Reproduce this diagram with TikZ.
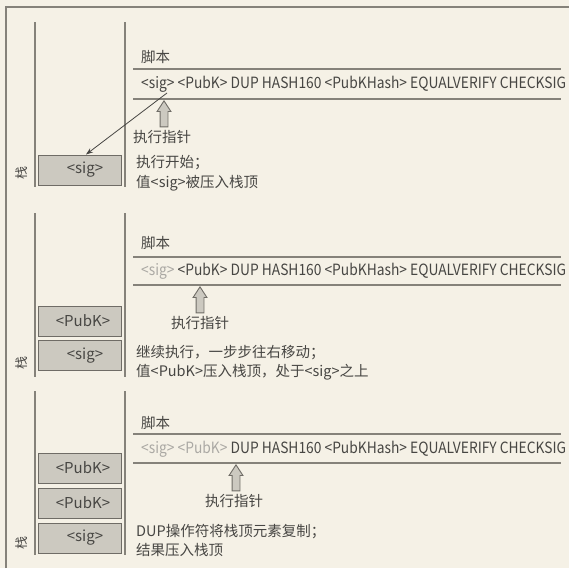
\documentclass[tikz,border=0pt]{standalone}
\usepackage{fontspec}
\setmainfont{Noto Sans CJK SC}
\newfontfamily\scrfont[FakeStretch=0.89]{Noto Sans CJK SC}
\usetikzlibrary{arrows.meta,shapes.arrows,calc}
\definecolor{bg}{HTML}{F5F1E6}
\definecolor{lncol}{HTML}{85827A}
\definecolor{boxfill}{HTML}{CCC9C0}
\definecolor{boxdraw}{HTML}{6F6C66}
\definecolor{txt}{HTML}{474643}
\definecolor{faded}{HTML}{ABA9A4}
\tikzset{
  frame/.style={draw=lncol, line width=1.4pt},
  stackline/.style={draw=lncol, line width=1.3pt},
  scriptline/.style={draw=lncol, line width=1.3pt},
  stackbox/.style={draw=boxdraw, fill=boxfill, line width=1pt, minimum width=83pt, minimum height=30pt, inner sep=0pt, text=txt, font=\fontsize{15}{18}\selectfont},
  boxlabel/.style={text=txt, font=\fontsize{15}{18}\selectfont, inner sep=0pt},
  lbl/.style={text=txt, font=\fontsize{14.5}{17}\selectfont, inner sep=0pt, anchor=west},
  scripttext/.style={text=txt, font=\scrfont\fontsize{15.5}{18}\selectfont, inner sep=0pt, anchor=west},
  ptr/.style={single arrow, shape border rotate=90, draw=boxdraw, fill=boxfill, line width=0.9pt,
    minimum height=26pt, inner sep=3.5pt, single arrow head extend=3pt, single arrow tip angle=66, anchor=tip},
  stacklbl/.style={text=txt, font=\fontsize{13}{15}\selectfont, inner sep=0pt, rotate=90}
}
\begin{document}
\begin{tikzpicture}[x=1pt,y=-1pt]
\useasboundingbox (0,0) rectangle (569,568);
\fill[bg] (0,0) rectangle (569,568);
% outer frame
\draw[frame] (6,568) -- (6,7) -- (569,7);

% ===== Panel 1 =====
\draw[stackline] (35,22) -- (35,187);
\draw[stackline] (125,22) -- (125,187);
\node[stackbox] (p1sig) at (80,170) {};
\node[boxlabel] (p1sigt) at (85,170) {<sig>};
\node[stacklbl] (p1stk) at (22,173) {栈};
\node[lbl] (p1jb) at (141,57) {脚本};
\draw[scriptline] (133,69) -- (561,69);
\draw[scriptline] (133,99) -- (561,99);
\node[scripttext] (p1scr) at (141,84) {<sig> <PubK> DUP HASH160 <PubKHash> EQUALVERIFY CHECKSIG};
\node[ptr] (p1ptr) at (164,100) {};
\node[lbl] (p1zx) at (133,137) {执行指针};
\node[lbl] (p1d1) at (136,163) {执行开始；};
\node[lbl] (p1d2) at (136,183) {值<sig>被压入栈顶};
\coordinate (p1src) at (167,93);
\draw[txt, line width=0.8pt, -{Stealth[length=7pt,width=5pt]}] (p1src) -- ($(p1sig.north)+(6,0)$);

% ===== Panel 2 =====
\draw[stackline] (35,213) -- (35,377);
\draw[stackline] (125,213) -- (125,377);
\node[stackbox] (p2pub) at (80,321) {};
\node[boxlabel] (p2pubt) at (83,321) {<PubK>};
\node[stackbox] (p2sig) at (80,355.5) {};
\node[boxlabel] (p2sigt) at (85,355.5) {<sig>};
\node[stacklbl] (p2stk) at (22,363) {栈};
\node[lbl] (p2jb) at (141,243) {脚本};
\draw[scriptline] (133,257) -- (561,257);
\draw[scriptline] (133,285) -- (561,285);
\node[scripttext] (p2scr) at (141,271) {\textcolor{faded}{<sig>} <PubK> DUP HASH160 <PubKHash> EQUALVERIFY CHECKSIG};
\node[ptr] (p2ptr) at (200,286) {};
\node[lbl] (p2zx) at (171,323) {执行指针};
\node[lbl] (p2d1) at (136,353) {继续执行，一步步往右移动；};
\node[lbl] (p2d2) at (136,372) {值<PubK>压入栈顶，处于<sig>之上};

% ===== Panel 3 =====
\draw[stackline] (35,391) -- (35,555);
\draw[stackline] (125,391) -- (125,555);
\node[stackbox] (p3pub2) at (80,468) {};
\node[boxlabel] (p3pub2t) at (83,468) {<PubK>};
\node[stackbox] (p3pub1) at (80,503) {};
\node[boxlabel] (p3pub1t) at (83,503) {<PubK>};
\node[stackbox] (p3sig) at (80,538) {};
\node[boxlabel] (p3sigt) at (85,538) {<sig>};
\node[stacklbl] (p3stk) at (22,543) {栈};
\node[lbl] (p3jb) at (141,423) {脚本};
\draw[scriptline] (133,434) -- (561,434);
\draw[scriptline] (133,463) -- (561,463);
\node[scripttext] (p3scr) at (141,449) {\textcolor{faded}{<sig> <PubK>} DUP HASH160 <PubKHash> EQUALVERIFY CHECKSIG};
\node[ptr] (p3ptr) at (236,464) {};
\node[lbl] (p3zx) at (205,501) {执行指针};
\node[lbl] (p3d1) at (136,532) {DUP操作符将栈顶元素复制；};
\node[lbl] (p3d2) at (136,550) {结果压入栈顶};
\end{tikzpicture}
\end{document}
